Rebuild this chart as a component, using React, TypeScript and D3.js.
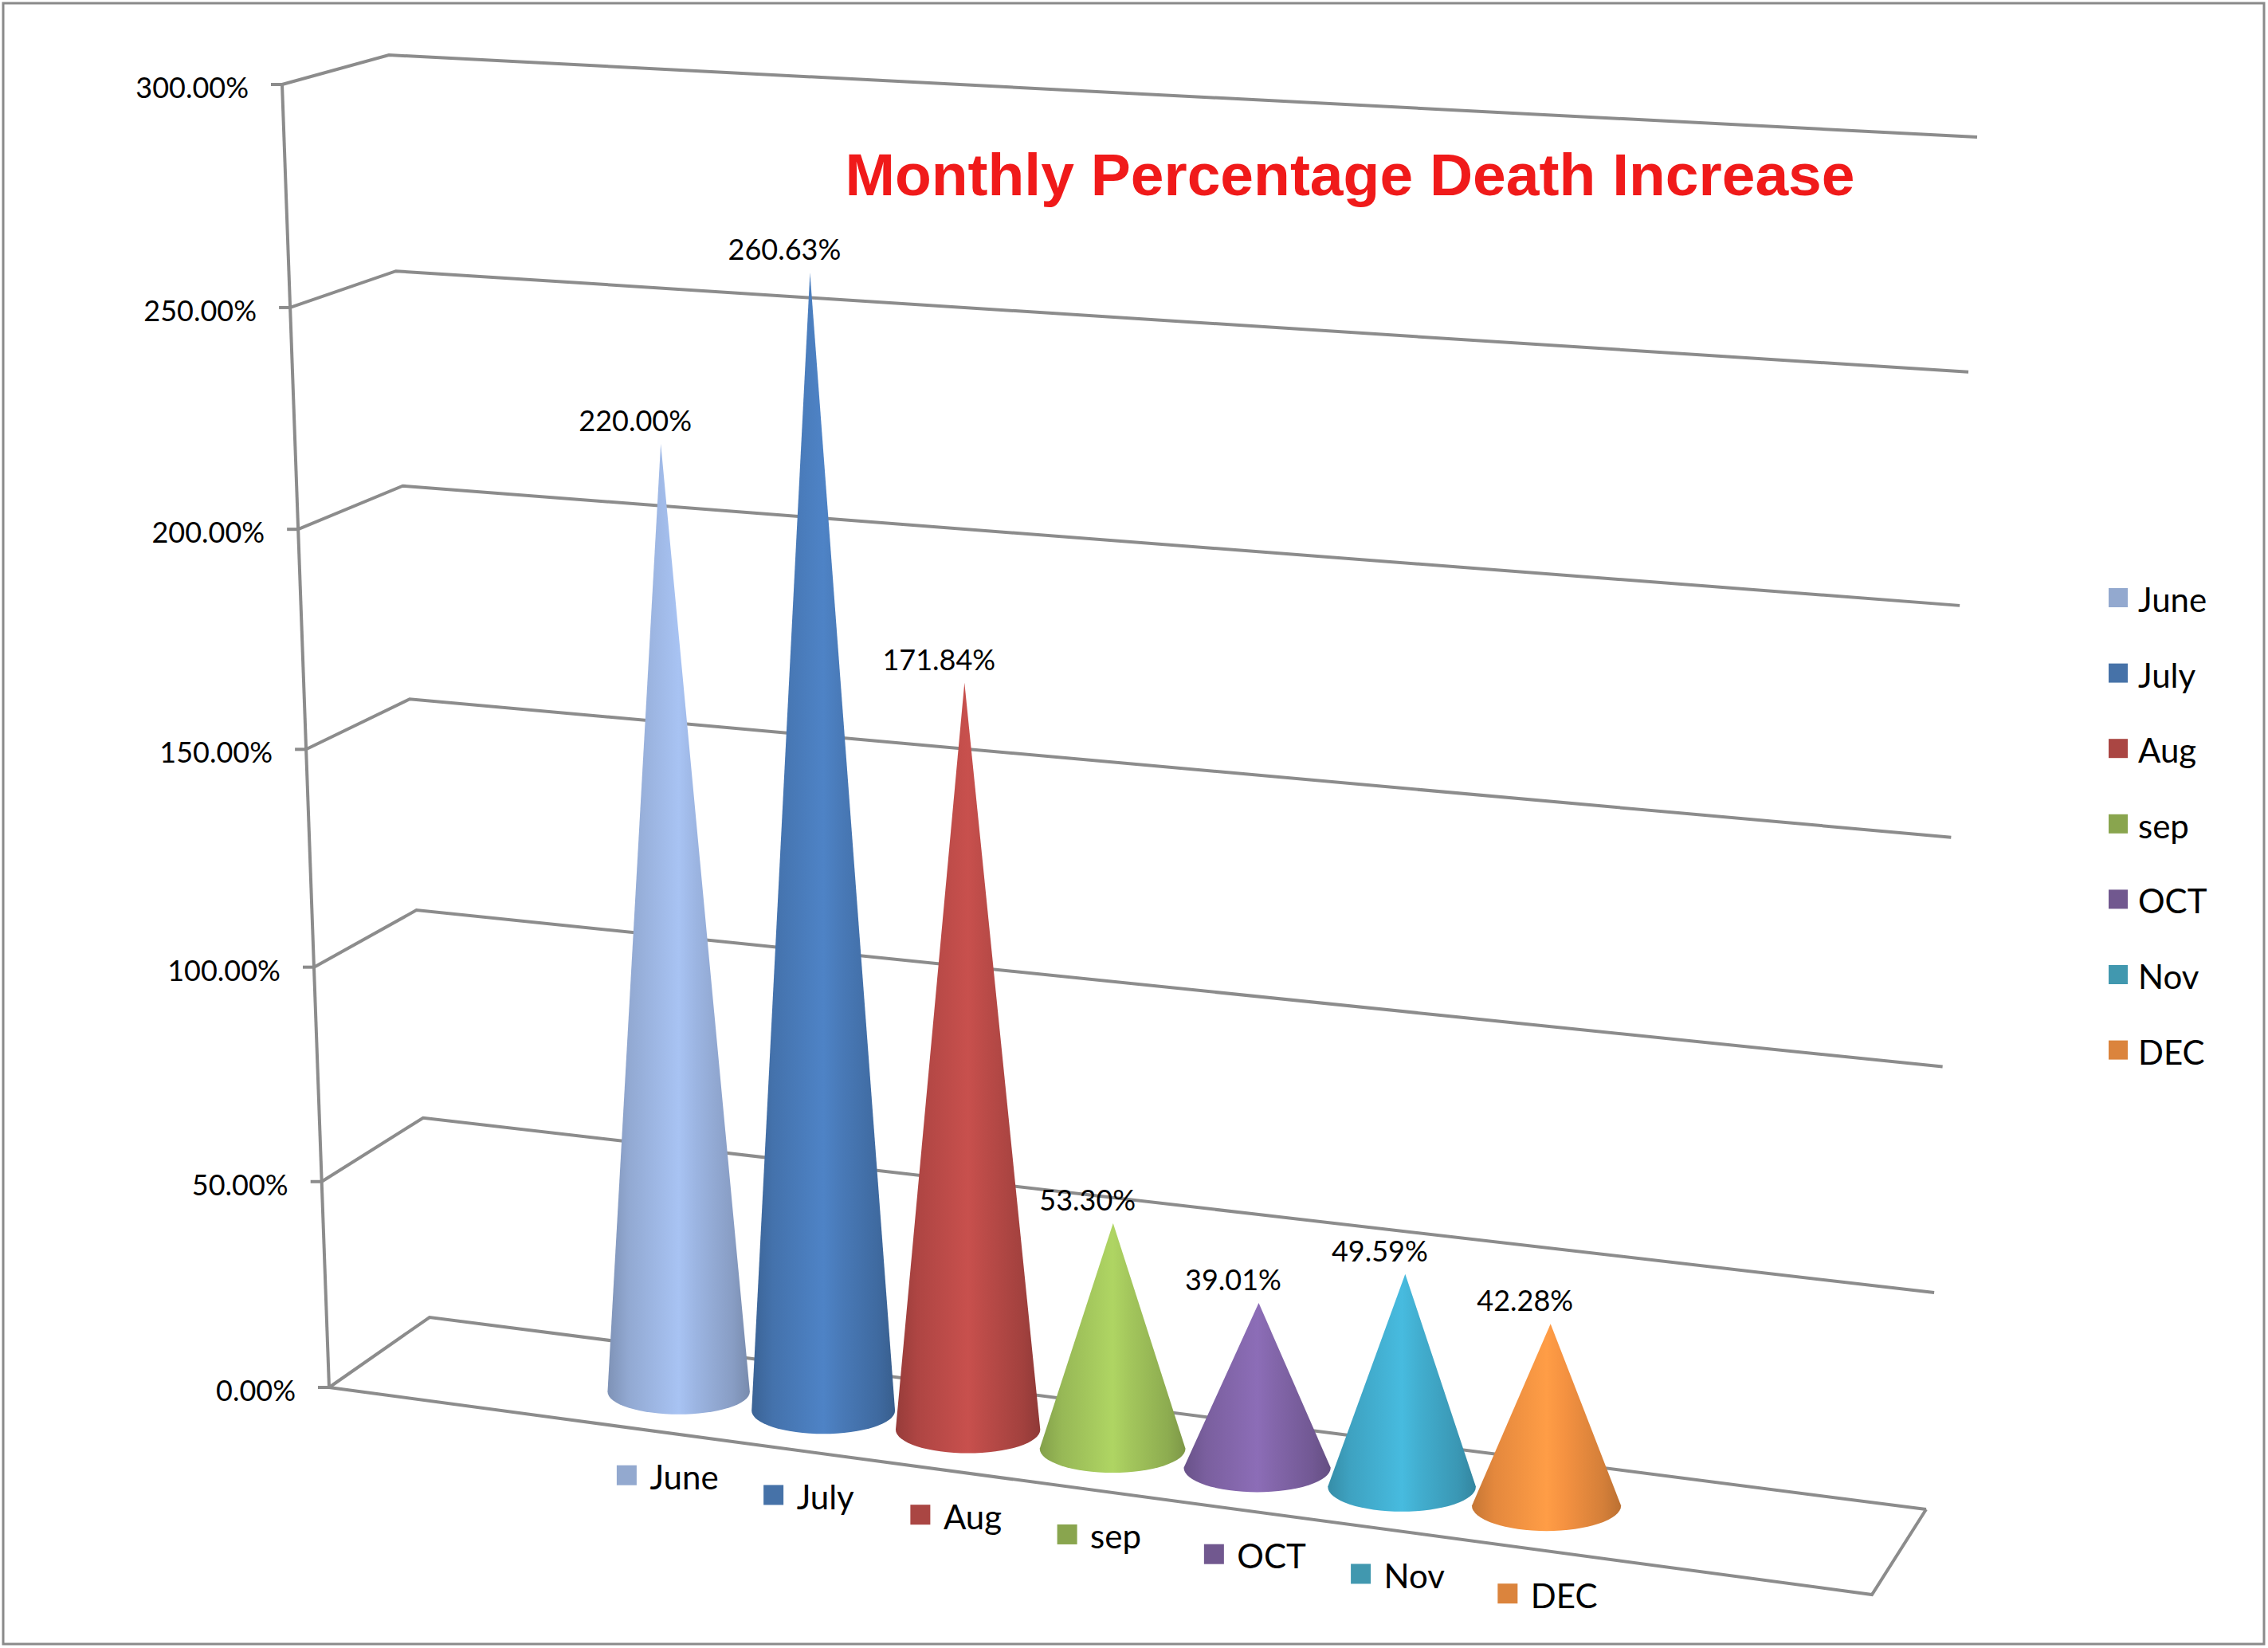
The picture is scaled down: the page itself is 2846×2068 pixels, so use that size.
import React from 'react';
import * as d3 from 'd3';

// data
const months = ['June', 'July', 'Aug', 'sep', 'OCT', 'Nov', 'DEC'];
const values = [220.0, 260.63, 171.84, 53.3, 39.01, 49.59, 42.28];
const tickValues = [0, 50, 100, 150, 200, 250, 300];
const legendColors = ['#93A9CF', '#4672A8', '#AA4643', '#89A54E', '#71588F', '#4198AF', '#DB843D'];
const coneColors = ['#97AFDA', '#4676B2', '#B44845', '#9DBF59', '#7E62A4', '#40A8C8', '#EC8D3F'];

const W = 2846;
const H = 2068;
const FONT = 'Lato, "Open Sans", sans-serif';

type Pt = [number, number];

// projected corners of the 3d plot box (floor: f/b, top: F/B; 0 = left, 1 = right)
const box: Record<string, Pt> = {
  f0: [413, 1741],
  f1: [2349, 2001],
  b0: [539, 1653],
  b1: [2417, 1894],
  F0: [354, 106],
  F1: [2419, 223],
  B0: [488, 69],
  B1: [2481, 172],
};

const lerp = (a: Pt, b: Pt, k: number): Pt => [a[0] + (b[0] - a[0]) * k, a[1] + (b[1] - a[1]) * k];

// u = across categories, d = depth (0 front, 1 back), t = height fraction
const proj = (u: number, d: number, t: number): Pt => {
  const floor = lerp(lerp(box.f0, box.f1, u), lerp(box.b0, box.b1, u), d);
  const top = lerp(lerp(box.F0, box.F1, u), lerp(box.B0, box.B1, u), d);
  return lerp(floor, top, t);
};

const hScale = d3.scalePow().exponent(1.03).domain([0, 300]).range([0, 1]);
const uScale = d3.scalePoint<string>().domain(months).range([0.197, 0.768]);
const line = d3.line<Pt>();
const fmt = (v: number) => v.toFixed(2) + '%';

export default function App() {
  const cones = months.map((m, i) => {
    const u = uScale(m) as number;
    const [cx, cy] = proj(u, 0.5, 0);
    const tip = proj(u, 0.5, hScale(values[i]));
    const height = cy - proj(u, 0.5, 1)[1];
    const depthDy = proj(u, 0, 0)[1] - proj(u, 1, 0)[1];
    const rx = 0.0545 * height;
    const ry = 0.31 * depthDy;
    const p = d3.path();
    p.moveTo(tip[0], tip[1]);
    p.lineTo(cx - rx, cy);
    const d = p.toString() + ` A ${rx} ${ry} 0 0 0 ${cx + rx} ${cy} Z`;
    const c = d3.color(coneColors[i])!;
    return { m, i, cx, cy, rx, ry, tip, d, c };
  });

  return (
    <svg
      width={W}
      height={H}
      style={{ position: 'absolute', left: 0, top: 0, background: '#fff' }}
      fontFamily={FONT}
    >
      <defs>
        {cones.map((k) => (
          <linearGradient
            key={k.m}
            id={`cone${k.i}`}
            gradientUnits="userSpaceOnUse"
            x1={k.cx - k.rx}
            x2={k.cx + k.rx}
            y1={0}
            y2={0}
          >
            <stop offset="0" stopColor={k.c.darker(0.5).formatHex()} />
            <stop offset="0.15" stopColor={k.c.darker(0.1).formatHex()} />
            <stop offset="0.5" stopColor={k.c.brighter(0.3).formatHex()} />
            <stop offset="0.62" stopColor={k.c.brighter(0.1).formatHex()} />
            <stop offset="0.88" stopColor={k.c.darker(0.3).formatHex()} />
            <stop offset="1" stopColor={k.c.darker(0.65).formatHex()} />
          </linearGradient>
        ))}
      </defs>

      <rect x={4} y={4} width={W - 9} height={H - 9} fill="#fff" stroke="#8a8a8a" strokeWidth={3} />

      {/* gridlines on side + back walls */}
      <g fill="none" stroke="#8c8c8c" strokeWidth={4}>
        {tickValues.map((v) => {
          const t = hScale(v);
          return (
            <path key={v} d={line([proj(0, 0, t), proj(0, 1, t), proj(1, 1, t)]) as string} />
          );
        })}
        <path d={line([proj(0, 0, 0), proj(0, 0, 1)]) as string} />
        <path d={line([proj(0, 0, 0), proj(1, 0, 0), proj(1, 1, 0)]) as string} />
        {tickValues.map((v) => {
          const [x, y] = proj(0, 0, hScale(v));
          return <path key={'t' + v} d={line([[x - 14, y], [x, y]]) as string} />;
        })}
      </g>

      {/* value axis labels */}
      <g fontSize={36} textAnchor="end" fill="#000">
        {tickValues.map((v) => {
          const [x, y] = proj(0, 0, hScale(v));
          return (
            <text key={v} x={x - 42} y={y + 3} dominantBaseline="central">
              {fmt(v)}
            </text>
          );
        })}
      </g>

      {/* cones */}
      {cones.map((k) => (
        <path key={k.m} d={k.d} fill={`url(#cone${k.i})`} />
      ))}

      {/* data labels */}
      <g fontSize={36} textAnchor="middle" fill="#000">
        {cones.map((k) => (
          <text key={k.m} x={k.tip[0] - 32} y={k.tip[1] - 16}>
            {fmt(values[k.i])}
          </text>
        ))}
      </g>

      {/* category keys along the floor */}
      <g fontSize={42} fill="#000">
        {months.map((m, i) => {
          const [x, y] = proj(uScale(m) as number, 0, 0);
          const sx = x - 8;
          const sy = y + 59;
          return (
            <g key={m}>
              <rect x={sx - 12.5} y={sy - 12.5} width={25} height={25} fill={legendColors[i]} />
              <text x={sx + 29} y={sy + 2} dominantBaseline="central">
                {m}
              </text>
            </g>
          );
        })}
      </g>

      {/* legend */}
      <g fontSize={42} fill="#000">
        {months.map((m, i) => {
          const y = 750 + i * 94.6;
          return (
            <g key={m}>
              <rect x={2646} y={y - 12} width={24} height={24} fill={legendColors[i]} />
              <text x={2683} y={y + 2} dominantBaseline="central">
                {m}
              </text>
            </g>
          );
        })}
      </g>

      <text
        x={1694}
        y={245}
        textAnchor="middle"
        fontFamily='"Liberation Sans", Arial, sans-serif'
        fontWeight="bold"
        fontSize={75}
        fill="#F01A1A"
      >
        Monthly Percentage Death Increase
      </text>
    </svg>
  );
}
